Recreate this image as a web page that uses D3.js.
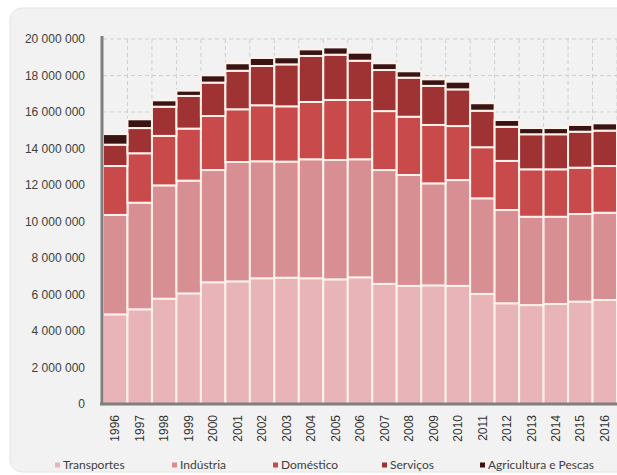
<!DOCTYPE html>
<html><head><meta charset="utf-8">
<script src="https://cdn.jsdelivr.net/npm/d3@7"></script>
<style>body{margin:0;background:#fff;}svg{display:block;font-family:Lato,"Open Sans",sans-serif;}</style>
</head><body><svg id="c" width="617" height="475"></svg>
<script>
const years = ["1996","1997","1998","1999","2000","2001","2002","2003","2004","2005","2006","2007","2008","2009","2010","2011","2012","2013","2014","2015","2016"];
const seriesNames = ["Transportes","Indústria","Doméstico","Serviços","Agricultura e Pescas"];
const transportes = [4910000,5190000,5770000,6060000,6670000,6720000,6890000,6920000,6890000,6830000,6940000,6580000,6470000,6500000,6470000,6030000,5520000,5420000,5480000,5610000,5700000];
const industria   = [5450000,5840000,6210000,6180000,6150000,6540000,6410000,6360000,6520000,6540000,6470000,6240000,6080000,5590000,5800000,5240000,5110000,4840000,4780000,4800000,4780000];
const domestico   = [2680000,2710000,2710000,2850000,2960000,2890000,3070000,3030000,3140000,3290000,3250000,3230000,3190000,3200000,2960000,2800000,2690000,2600000,2600000,2540000,2560000];
const servicos    = [1170000,1380000,1600000,1790000,1830000,2110000,2150000,2300000,2520000,2480000,2150000,2250000,2140000,2140000,2010000,2000000,1870000,1920000,1920000,1970000,1940000];
const agricultura = [580000,480000,350000,290000,400000,410000,440000,390000,360000,400000,440000,370000,350000,360000,420000,410000,370000,340000,340000,370000,400000];
const yTicks = [0,2000000,4000000,6000000,8000000,10000000,12000000,14000000,16000000,18000000,20000000];
const colors = ["#e8b4b8","#d88f93","#c94a4a","#9f3232","#3a1313"];

const svg = d3.select("#c");
svg.append("rect").attr("x",10).attr("y",8).attr("width",640).attr("height",464).attr("rx",12)
  .attr("fill","#f2f2f2").attr("stroke","#e4e4e4");

const x = d3.scaleBand().domain(years).range([103,617]).padding(0);
const y = d3.scaleLinear().domain([0,20000000]).range([404,39]);

// gridlines
const g = svg.append("g");
g.selectAll(".hg").data(yTicks.slice(1)).join("line")
  .attr("x1",103).attr("x2",617).attr("y1",d=>y(d)).attr("y2",d=>y(d))
  .attr("stroke","#cfcfcf").attr("stroke-dasharray","4,3");
g.selectAll(".vg").data(years).join("line")
  .attr("x1",d=>x(d)+x.step()).attr("x2",d=>x(d)+x.step()).attr("y1",39).attr("y2",404)
  .attr("stroke","#cfcfcf").attr("stroke-dasharray","4,3");

const rows = years.map((yr,i)=>({year:yr,Transportes:transportes[i],"Indústria":industria[i],"Doméstico":domestico[i],"Serviços":servicos[i],"Agricultura e Pescas":agricultura[i]}));
const stacked = d3.stack().keys(seriesNames)(rows);
svg.append("g").selectAll("g").data(stacked).join("g").attr("fill",(d,i)=>colors[i])
  .selectAll("rect").data(d=>d).join("rect")
  .attr("x",d=>x(d.data.year)).attr("width",x.bandwidth())
  .attr("y",d=>y(d[1])).attr("height",d=>y(d[0])-y(d[1]))
  .attr("stroke","#fdf1ea").attr("stroke-width",2);

// axes
const fmt = v => d3.format(",")(v).replace(/,/g," ");
const ya = svg.append("g").attr("transform","translate(102,0)")
  .call(d3.axisLeft(y).tickValues(yTicks).tickFormat(fmt).tickSize(0).tickPadding(17));
ya.select(".domain").remove();
ya.selectAll("text").attr("fill","#404040").style("font-size","12px");
svg.append("line").attr("x1",102).attr("x2",102).attr("y1",36).attr("y2",405).attr("stroke","#7f7f7f").attr("stroke-width",3);

const xa = svg.append("g").attr("transform","translate(0,404)")
  .call(d3.axisBottom(x).tickSize(0));
xa.select(".domain").remove();
xa.selectAll("text").attr("transform","rotate(-90)").attr("text-anchor","end")
  .attr("x",-11).attr("y",0).attr("dy","0.35em").attr("fill","#333").style("font-size","12px");
svg.append("line").attr("x1",100).attr("x2",617).attr("y1",404).attr("y2",404).attr("stroke","#7f7f7f").attr("stroke-width",3);

// legend
const legX = [55,172,273,382,480];
const lg = svg.append("g").selectAll("g").data(seriesNames).join("g")
  .attr("transform",(d,i)=>`translate(${legX[i]},465)`);
lg.append("rect").attr("x",0).attr("y",-2.5).attr("width",5).attr("height",5).attr("fill",(d,i)=>colors[i]);
lg.append("text").attr("x",8).attr("y",0).attr("dy","0.35em").attr("fill","#404040").style("font-size","12px").text(d=>d);
</script></body></html>
